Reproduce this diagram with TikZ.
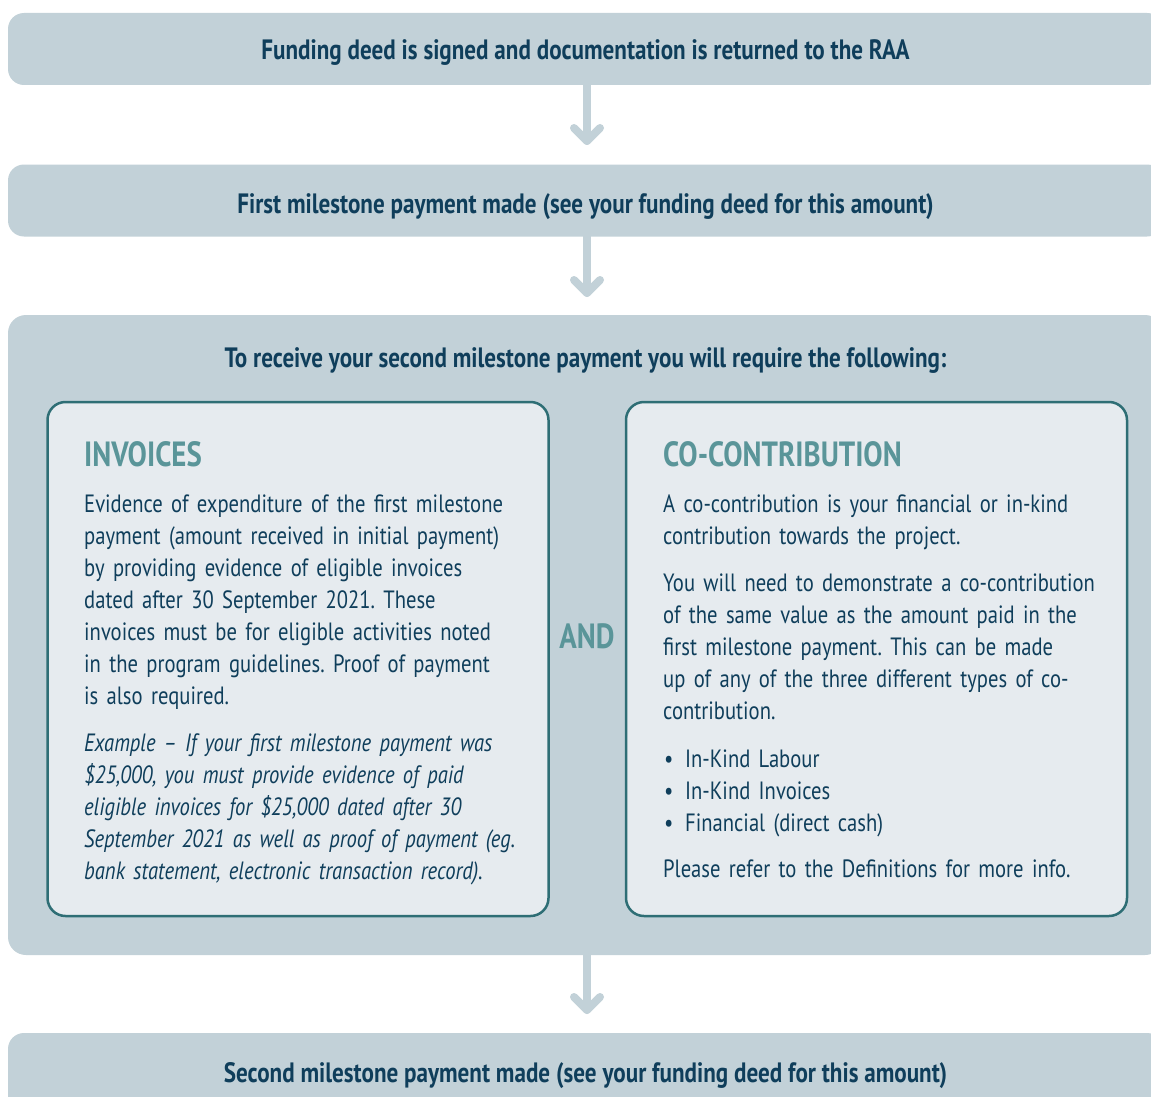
\documentclass[tikz,border=0pt]{standalone}
\usepackage{fontspec}
\setmainfont{PT Sans}[FakeStretch=0.825]
\usetikzlibrary{calc}
\definecolor{bandc}{HTML}{C2D1D8}
\definecolor{innerc}{HTML}{E6EBEF}
\definecolor{borderc}{HTML}{2E6E75}
\definecolor{headc}{HTML}{5A9599}
\definecolor{textc}{HTML}{0F3E5B}
\frenchspacing
\begin{document}
\begin{tikzpicture}[x=1pt,y=-1pt,
  band/.style={fill=bandc, draw=none, rounded corners=16pt, inner sep=0pt,
    minimum width=1155pt, minimum height=72pt},
  title/.style={text=textc, inner sep=0pt, text height=20pt, text depth=0pt,
    font=\bfseries\fontsize{28}{32}\selectfont},
  inner/.style={fill=innerc, draw=borderc, line width=2.5pt, rounded corners=18pt,
    minimum width=501pt, minimum height=514pt, inner sep=0pt},
  head/.style={text=headc, inner sep=0pt, anchor=base west,
    font=\bfseries\fontsize{35}{40}\selectfont},
  body/.style={text=textc, inner sep=0pt, anchor=base west, text width=480pt, align=left,
    font=\fontsize{25}{32}\selectfont},
  conn/.style={draw=bandc, line width=8pt, line cap=round, line join=round},
]
\clip (0,0) rectangle (1151,1097);
\fill[white] (0,0) rectangle (1151,1097);

% bands
\node[band] (b1) at (585.5,49) {};
\node[title] (t1) at (585.5,50) {Funding deed is signed and documentation is returned to the RAA};
\node[band] (b2) at (585.5,200.5) {};
\node[title] (t2) at (585.5,203) {First milestone payment made (see your funding deed for this amount)};
\node[band, minimum height=640pt, rounded corners=18pt] (big) at (585.5,635) {};
\node[title] (t3) at (585.5,357) {To receive your second milestone payment you will require the following:};
\node[band, minimum height=90pt] (b4) at (585.5,1078) {};
\node[title] (t4) at (585.5,1072) {Second milestone payment made (see your funding deed for this amount)};

% connectors
\coordinate (v1) at (587,141);
\coordinate (v2) at (587,293);
\coordinate (v3) at (587,1010);
\draw[conn] (b1.south -| v1) -- (v1);
\draw[conn] ($(v1)+(-13,-13)$) -- (v1) -- ($(v1)+(13,-13)$);
\draw[conn] (b2.south -| v2) -- (v2);
\draw[conn] ($(v2)+(-13,-13)$) -- (v2) -- ($(v2)+(13,-13)$);
\draw[conn] (big.south -| v3) -- (v3);
\draw[conn] ($(v3)+(-13,-13)$) -- (v3) -- ($(v3)+(13,-13)$);

% inner boxes
\node[inner] (left) at (298,659) {};
\node[inner] (right) at (876.5,659) {};
\node[text=headc, inner sep=0pt, text height=25pt, text depth=0pt,
  font=\bfseries\fontsize{35}{40}\selectfont] (and) at (587,636) {AND};

% left text
\node[head] (invh) at (84,466) {INVOICES};
\node[body] (invp1) at (84,512) {Evidence of expenditure of the first milestone\\
payment (amount received in initial payment)\\
by providing evidence of eligible invoices\\
dated after 30 September 2021. These\\
invoices must be for eligible activities noted\\
in the program guidelines. Proof of payment\\
is also required.};
\node[body, font=\itshape\fontsize{25}{32}\selectfont] (invp2) at (84,751) {Example -- If your first milestone payment was\\
\$25,000, you must provide evidence of paid\\
eligible invoices for \$25,000 dated after 30\\
September 2021 as well as proof of payment (eg.\\
bank statement, electronic transaction record).};

% right text
\node[head] (coh) at (663,466) {CO-CONTRIBUTION};
\node[body] (cop1) at (663,512) {A co-contribution is your financial or in-kind\\
contribution towards the project.};
\node[body] (cop2) at (663,591) {You will need to demonstrate a co-contribution\\
of the same value as the amount paid in the\\
first milestone payment. This can be made\\
up of any of the three different types of co-\\
contribution.};
\node[body] (cob) at (663,767) {\makebox[22pt][l]{\hspace{1pt}•}In-Kind Labour\\
\makebox[22pt][l]{\hspace{1pt}•}In-Kind Invoices\\
\makebox[22pt][l]{\hspace{1pt}•}Financial (direct cash)};
\node[body] (cop3) at (663,877) {Please refer to the Definitions for more info.};
\end{tikzpicture}
\end{document}
